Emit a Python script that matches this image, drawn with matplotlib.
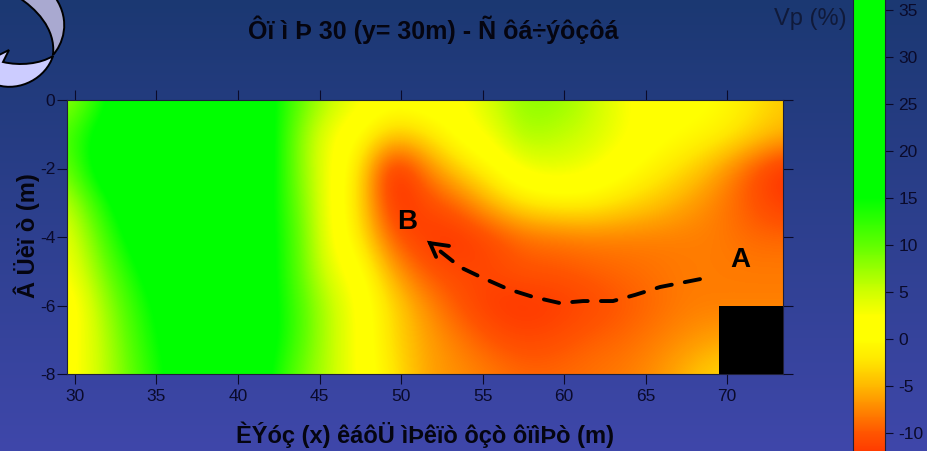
import numpy as np
import matplotlib
matplotlib.use("Agg")
import matplotlib.pyplot as plt
from matplotlib.colors import LinearSegmentedColormap, Normalize, to_rgb
from matplotlib.patches import PathPatch, Rectangle
from matplotlib.path import Path

W, H = 928, 451
plt.rcParams['font.family'] = ['Liberation Sans', 'DejaVu Sans']
plt.rcParams['axes.unicode_minus'] = False

title_text = "Ôï ì Þ 30 (y= 30m) - Ñ ôá÷ýôçôá"
xlabel_text = "ÈÝóç (x) êáôÜ ìÞêïò ôçò ôïìÞò (m)"
ylabel_text = "Â Üèï ò (m)"
cbar_label = "Vp (%)"

x_ticks = [30, 35, 40, 45, 50, 55, 60, 65, 70]
y_ticks = [0, -2, -4, -6, -8]
cbar_ticks = [-10, -5, 0, 5, 10, 15, 20, 25, 30, 35]

row_0 = [7, 13, 20, 20, 20, 20, 18, 11, 6, 3, 1, 2, 2, 5, 8, 8, 6, 3, 1, 1, 0, -2, -4]
row_1 = [11, 17, 20, 20, 20, 20, 19, 9, 3, 0, -4, -2.5, 1, 3, 7, 6, 5, 3, 1, 0, -1, -3, -5]
row_2 = [9, 18, 20, 20, 20, 20, 19, 9, 3, -2.5, -14, -8, -3.5, -0.5, 3, 4, 3, 1, -1, -3, -6, -10, -13]
row_3 = [5, 13, 19, 20, 20, 20, 18, 10, 3, -3, -13, -11, -9, -5, -2, -1, -1, -2.5, -4, -6, -8, -10, -12]
row_4 = [3, 10, 17, 20, 20, 20, 18, 11, 3, -2, -10, -12, -12.5, -11, -9, -8.5, -8, -8, -8, -8, -8, -9, -9]
row_5 = [2, 8, 14, 19, 20, 20, 18, 11, 4, 1, -6, -10, -11, -11, -10, -10, -9.5, -9, -8.5, -8, -8, -8, -8]
row_6 = [0, 6, 12, 17, 20, 20, 18, 12, 6, 2, -3, -7, -10, -12, -12.5, -12, -11, -10, -9, -8, -8, -8, -8]
row_7 = [1, 5, 11, 16, 20, 20, 18, 12, 6, 2, -3, -6, -8, -10, -11, -10.5, -9.5, -9, -8, -7, -6, -6, -6]
row_8 = [1, 5, 10, 15, 20, 20, 17, 10, 6, 2, -2, -6, -7, -8, -9, -9, -8.5, -8, -7, -5, -3, -3, -3]
grid = np.array([row_0, row_1, row_2, row_3, row_4, row_5, row_6, row_7, row_8], float)

path_x = [68.34, 65.89, 64.36, 63.0, 61.17, 59.75, 58.1, 56.56, 55.03, 53.62, 53.0, 51.78]
path_y = [-5.23, -5.46, -5.69, -5.87, -5.87, -5.93, -5.75, -5.52, -5.2, -4.88, -4.64, -4.18]
head_x = [52.94, 51.78, 52.15]
head_y = [-4.26, -4.18, -4.58]

stops = [(-14, '#ff1000'), (-11.9, '#ff3c00'), (-10, '#ff5500'), (-5, '#ffb800'), (-2.2, '#ffe800'),
         (0, '#ffff00'), (2.4, '#ffff00'), (5, '#d0ff00'), (10, '#60ff00'), (15, '#00ff00'), (37, '#00ff00')]
lo, hi = stops[0][0], stops[-1][0]
cmap = LinearSegmentedColormap.from_list('vp', [((v - lo) / (hi - lo), c) for v, c in stops], N=512)
norm = Normalize(lo, hi)

fig = plt.figure(figsize=(W / 100, H / 100), dpi=100)

def rect(x0, y0, x1, y1):
    return [x0 / W, 1 - y1 / H, (x1 - x0) / W, (y1 - y0) / H]

bg = fig.add_axes([0, 0, 1, 1], zorder=0)
top, bot = np.array(to_rgb('#1b3872')), np.array(to_rgb('#3f47aa'))
t = np.linspace(0, 1, H)[:, None, None]
bg.imshow(top + (bot - top) * t, aspect='auto', extent=(0, W, H, 0), interpolation='bilinear')
bg.set_xlim(0, W); bg.set_ylim(H, 0); bg.axis('off')

# swirl decoration
M, L, C = Path.MOVETO, Path.LINETO, Path.CURVE4
dark = Path([(18, -3), (35, 8), (56, 28), (53, 55), (62, 45), (72, 22), (55, -3), (18, -3)],
            [M, C, C, C, C, C, C, Path.CLOSEPOLY])
light = Path([(53, 56), (46, 78), (20, 92), (-3, 85), (-3, 56), (9, 50), (3, 62), (20, 66), (40, 64), (53, 56), (53, 56)],
             [M, C, C, C, L, L, L, C, C, C, Path.CLOSEPOLY])
bg.add_patch(PathPatch(dark, fc='#a9a9d0', ec='black', lw=1.4))
bg.add_patch(PathPatch(light, fc='#ccccff', ec='black', lw=1.4))

ax = fig.add_axes(rect(67, 100, 783, 374), zorder=2)
ax.imshow(grid, cmap=cmap, norm=norm, aspect='auto', interpolation='bicubic',
          extent=(28.5, 74.5, -8.5, 0.5), origin='upper')
ax.add_patch(Rectangle((69.5, -8), 4, 2, fc='black', ec='none', zorder=3))
ax.set_xlim(29.51, 73.43)
ax.set_ylim(-8, 0)
ax.set_xticks(x_ticks)
ax.set_yticks(y_ticks)
ax.tick_params(axis='both', length=7.5, width=0.8, color='#0a0a2a', labelcolor='#0a0a2a', labelsize=12.5,
               top=True, right=True)
ax.tick_params(axis='x', pad=3.5)
ax.tick_params(axis='y', pad=1)
for s in ax.spines.values():
    s.set_linewidth(0.8); s.set_color('#20203a')

ax.plot(path_x, path_y, color='black', lw=2.8, dashes=(4.0, 3.4), dash_capstyle='round', zorder=4)
ax.plot(head_x, head_y, color='black', lw=2.8, solid_capstyle='round', solid_joinstyle='miter', zorder=4)

def ptext(x, y, s, **kw):
    fig.text(x / W, 1 - y / H, s, ha='center', va='center', zorder=5, **kw)

ptext(433, 30, title_text, fontsize=18, fontweight='bold', color='#050510')
ptext(425, 435, xlabel_text, fontsize=17, fontweight='bold', color='#050510')
ptext(27, 236, ylabel_text, fontsize=17, fontweight='bold', color='#050510', rotation=90)
ptext(810, 19, cbar_label, fontsize=17, color='#101a3a')
ptext(407, 222, 'B', fontsize=20, fontweight='bold', color='black')
ptext(740, 260, 'A', fontsize=20, fontweight='bold', color='black')

cax = fig.add_axes(rect(853, -3, 885, 454), zorder=2)
sm = plt.cm.ScalarMappable(norm=norm, cmap=cmap)
cb = fig.colorbar(sm, cax=cax)
cb.ax.set_ylim(-12.21, 36.4)
cb.set_ticks(cbar_ticks)
cb.ax.tick_params(length=6, width=0.8, color='#0a0a2a', labelcolor='#0a0a2a', labelsize=12.5, pad=3.5)
cb.outline.set_linewidth(0.8)
cb.outline.set_edgecolor('#20203a')

fig.savefig('out.png', dpi=100)
